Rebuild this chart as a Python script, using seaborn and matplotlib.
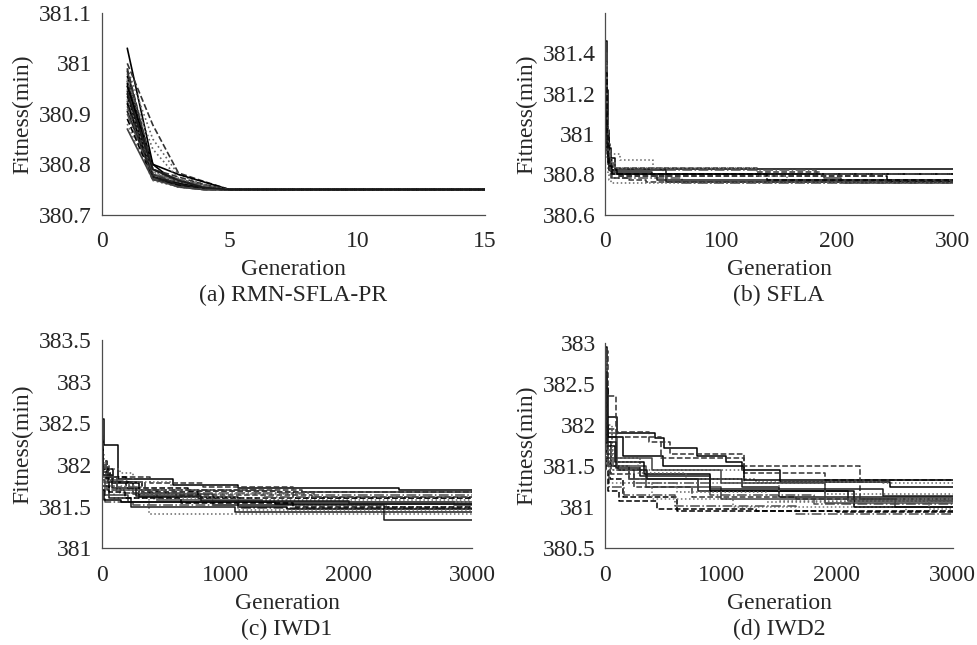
import numpy as np
import seaborn as sns
import matplotlib.pyplot as plt
import matplotlib.ticker as mticker

# (a) RMN-SFLA-PR : fitness at generations 1..5 and 15 (flat after 5)
gen_a = [1, 2, 3, 4, 5, 15]
runs_a = [
    [381.03, 380.80, 380.760, 380.752, 380.75, 380.75],
    [381.00, 380.878, 380.783, 380.766, 380.75, 380.75],
    [380.99, 380.85, 380.780, 380.760, 380.75, 380.75],
    [380.985, 380.79, 380.770, 380.755, 380.75, 380.75],
    [380.98, 380.78, 380.765, 380.755, 380.75, 380.75],
    [380.975, 380.775, 380.760, 380.753, 380.75, 380.75],
    [380.97, 380.785, 380.770, 380.760, 380.75, 380.75],
    [380.965, 380.78, 380.762, 380.752, 380.75, 380.75],
    [380.96, 380.775, 380.758, 380.751, 380.75, 380.75],
    [380.955, 380.79, 380.765, 380.755, 380.75, 380.75],
    [380.95, 380.77, 380.760, 380.752, 380.75, 380.75],
    [380.945, 380.775, 380.755, 380.750, 380.75, 380.75],
    [380.94, 380.78, 380.770, 380.758, 380.75, 380.75],
    [380.935, 380.772, 380.760, 380.752, 380.75, 380.75],
    [380.93, 380.785, 380.765, 380.755, 380.75, 380.75],
    [380.925, 380.77, 380.758, 380.751, 380.75, 380.75],
    [380.92, 380.775, 380.762, 380.753, 380.75, 380.75],
    [380.915, 380.78, 380.760, 380.750, 380.75, 380.75],
    [380.91, 380.77, 380.757, 380.751, 380.75, 380.75],
    [380.905, 380.775, 380.760, 380.752, 380.75, 380.75],
    [380.90, 380.772, 380.755, 380.750, 380.75, 380.75],
    [380.89, 380.77, 380.758, 380.751, 380.75, 380.75],
    [380.88, 380.768, 380.755, 380.750, 380.75, 380.75],
    [380.87, 380.77, 380.756, 380.750, 380.75, 380.75],
    [380.955, 380.80, 380.780, 380.765, 380.75, 380.75],
    [380.99, 380.79, 380.775, 380.760, 380.75, 380.75],
    [380.965, 380.83, 380.772, 380.758, 380.75, 380.75],
    [380.94, 380.79, 380.768, 380.754, 380.75, 380.75],
]

# (b) SFLA : step breakpoints (generation, best fitness)
runs_b = [
    ([0, 1, 2, 3, 5, 8, 300], [381.46, 381.22, 381.02, 380.93, 380.88, 380.826, 380.826]),
    ([0, 1, 2, 4, 7, 131, 183, 300], [381.30, 381.10, 380.95, 380.87, 380.83, 380.81, 380.80, 380.80]),
    ([0, 1, 2, 4, 13, 41, 50, 300], [381.20, 381.00, 380.92, 380.90, 380.87, 380.83, 380.80, 380.80]),
    ([0, 1, 2, 3, 5, 52, 300], [381.15, 380.98, 380.90, 380.85, 380.82, 380.76, 380.76]),
    ([0, 1, 2, 4, 6, 66, 300], [381.10, 380.95, 380.85, 380.80, 380.78, 380.755, 380.755]),
    ([0, 1, 3, 5, 10, 243, 300], [381.25, 381.00, 380.88, 380.82, 380.79, 380.76, 380.76]),
    ([0, 1, 2, 4, 8, 131, 157, 300], [381.35, 381.05, 380.92, 380.86, 380.83, 380.79, 380.77, 380.77]),
    ([0, 1, 2, 3, 6, 189, 204, 300], [381.00, 380.90, 380.85, 380.82, 380.80, 380.78, 380.755, 380.755]),
    ([0, 1, 2, 4, 10, 300], [381.05, 380.92, 380.86, 380.82, 380.80, 380.80]),
    ([0, 1, 2, 3, 5, 20, 35, 300], [381.18, 380.98, 380.88, 380.83, 380.78, 380.77, 380.76, 380.76]),
    ([0, 1, 2, 3, 5, 300], [380.98, 380.88, 380.80, 380.77, 380.755, 380.755]),
    ([0, 1, 2, 3, 5, 40, 45, 300], [381.12, 380.95, 380.86, 380.82, 380.81, 380.80, 380.77, 380.77]),
    ([0, 1, 2, 4, 182, 186, 300], [381.40, 381.10, 380.90, 380.82, 380.81, 380.80, 380.80]),
    ([0, 1, 2, 3, 6, 140, 300], [381.30, 381.00, 380.88, 380.84, 380.80, 380.77, 380.77]),
]

# (c) IWD1
runs_c = [
    ([0, 15, 132, 575, 1100, 2410, 3000], [382.55, 382.24, 381.83, 381.76, 381.72, 381.70, 381.70]),
    ([0, 8, 60, 388, 820, 1547, 3000], [382.30, 382.00, 381.85, 381.78, 381.74, 381.60, 381.60]),
    ([0, 5, 30, 100, 383, 3000], [382.10, 381.90, 381.75, 381.60, 381.41, 381.41]),
    ([0, 10, 50, 250, 900, 2288, 3000], [382.20, 381.95, 381.80, 381.65, 381.52, 381.34, 381.34]),
    ([0, 5, 25, 250, 1100, 3000], [381.95, 381.70, 381.55, 381.52, 381.48, 381.48]),
    ([0, 6, 40, 200, 700, 1400, 2400, 3000], [382.40, 382.05, 381.85, 381.72, 381.69, 381.68, 381.67, 381.67]),
    ([0, 20, 80, 260, 1640, 2850, 3000], [382.15, 381.90, 381.75, 381.65, 381.60, 381.55, 381.55]),
    ([0, 10, 120, 450, 1300, 3000], [382.05, 381.85, 381.70, 381.58, 381.55, 381.55]),
    ([0, 12, 90, 300, 1100, 1500, 3000], [382.30, 381.95, 381.78, 381.62, 381.50, 381.47, 381.47]),
    ([0, 4, 40, 180, 600, 1700, 3000], [381.98, 381.80, 381.70, 381.66, 381.64, 381.62, 381.62]),
    ([0, 7, 35, 150, 500, 1250, 3000], [382.10, 381.88, 381.74, 381.66, 381.60, 381.58, 381.58]),
    ([0, 5, 60, 240, 1080, 3000], [381.90, 381.75, 381.60, 381.50, 381.44, 381.44]),
    ([0, 3, 45, 220, 1250, 1720, 3000], [382.45, 382.00, 381.82, 381.70, 381.66, 381.64, 381.64]),
    ([0, 9, 70, 330, 780, 3000], [382.20, 381.92, 381.80, 381.68, 381.60, 381.60]),
    ([0, 15, 100, 420, 1500, 2300, 3000], [382.00, 381.80, 381.70, 381.58, 381.52, 381.50, 381.50]),
    ([0, 6, 30, 210, 2850, 3000], [382.05, 381.82, 381.64, 381.56, 381.52, 381.52]),
    ([0, 4, 20, 160, 1400, 3000], [381.85, 381.70, 381.58, 381.55, 381.53, 381.53]),
    ([0, 8, 50, 350, 1620, 2300, 3000], [382.35, 381.98, 381.80, 381.70, 381.68, 381.67, 381.67]),
    ([0, 5, 150, 250, 560, 1100, 3000], [382.25, 381.95, 381.90, 381.80, 381.62, 381.46, 381.46]),
    ([0, 10, 80, 280, 800, 2000, 3000], [382.15, 381.88, 381.72, 381.63, 381.57, 381.53, 381.53]),
    ([0, 3, 35, 120, 330, 1300, 3000], [382.40, 382.05, 381.86, 381.74, 381.66, 381.61, 381.61]),
    ([0, 6, 55, 190, 640, 1550, 3000], [382.00, 381.84, 381.68, 381.60, 381.54, 381.49, 381.49]),
]

# (d) IWD2
runs_d = [
    ([0, 10, 100, 430, 505, 790, 1040, 1180, 1513, 2460, 3000],
     [382.95, 382.10, 381.90, 381.84, 381.72, 381.62, 381.55, 381.45, 381.31, 381.25, 381.25]),
    ([0, 20, 90, 380, 560, 1200, 1900, 3000], [382.90, 382.35, 381.92, 381.80, 381.65, 381.42, 381.33, 381.33]),
    ([0, 10, 60, 300, 1200, 1900, 3000], [382.60, 381.95, 381.60, 381.45, 381.30, 381.16, 381.16]),
    ([0, 8, 50, 200, 800, 2100, 3000], [382.30, 381.80, 381.50, 381.35, 381.20, 381.08, 381.08]),
    ([0, 12, 70, 250, 900, 1800, 3000], [382.50, 381.70, 381.45, 381.30, 381.15, 381.04, 381.04]),
    ([0, 5, 40, 150, 620, 2000, 3000], [382.20, 381.60, 381.35, 381.12, 380.96, 380.94, 380.94]),
    ([0, 6, 30, 400, 1100, 2600, 3000], [382.10, 381.55, 381.30, 381.10, 381.00, 380.96, 380.96]),
    ([0, 15, 100, 350, 1000, 2500, 3000], [382.70, 381.85, 381.50, 381.25, 381.10, 381.00, 381.00]),
    ([0, 9, 80, 330, 900, 2150, 3000], [382.40, 381.75, 381.55, 381.40, 381.20, 381.00, 381.00]),
    ([0, 7, 45, 250, 750, 1650, 3000], [382.25, 381.65, 381.40, 381.25, 381.12, 381.10, 381.10]),
    ([0, 10, 60, 280, 700, 1300, 2400, 3000], [382.80, 382.00, 381.55, 381.42, 381.35, 381.31, 381.29, 381.29]),
    ([0, 20, 110, 360, 1180, 1500, 3000], [382.00, 381.50, 381.45, 381.35, 381.25, 381.12, 381.12]),
    ([0, 5, 35, 160, 600, 1650, 3000], [382.15, 381.50, 381.25, 381.15, 381.02, 380.92, 380.92]),
    ([0, 4, 25, 120, 450, 1300, 3000], [382.00, 381.45, 381.20, 381.08, 380.98, 380.95, 380.95]),
    ([0, 8, 55, 300, 1500, 2800, 3000], [382.35, 381.70, 381.50, 381.30, 381.08, 380.98, 380.98]),
    ([0, 15, 90, 400, 1000, 1900, 3000], [382.55, 381.90, 381.60, 381.45, 381.30, 381.05, 381.05]),
    ([0, 25, 150, 500, 1200, 3000], [382.45, 381.85, 381.62, 381.50, 381.33, 381.33]),
    ([0, 10, 100, 480, 1200, 2200, 3000], [382.60, 381.95, 381.85, 381.60, 381.50, 381.10, 381.10]),
    ([0, 6, 40, 200, 620, 1400, 3000], [382.30, 381.60, 381.45, 381.30, 381.18, 381.06, 381.06]),
    ([0, 12, 90, 300, 900, 2400, 3000], [382.65, 381.80, 381.48, 381.38, 381.22, 381.14, 381.14]),
]

panels = [
    ("(a) RMN-SFLA-PR", (380.7, 381.1), [380.7, 380.8, 380.9, 381, 381.1], (0, 15), [0, 5, 10, 15]),
    ("(b) SFLA", (380.6, 381.6), [380.6, 380.8, 381, 381.2, 381.4], (0, 300), [0, 100, 200, 300]),
    ("(c) IWD1", (381, 383.5), [381, 381.5, 382, 382.5, 383, 383.5], (0, 3000), [0, 1000, 2000, 3000]),
    ("(d) IWD2", (380.5, 383), [380.5, 381, 381.5, 382, 382.5, 383], (0, 3000), [0, 1000, 2000, 3000]),
]

sns.set_style("white")
plt.rcParams['font.family'] = ['Liberation Serif', 'DejaVu Serif']
plt.rcParams['font.size'] = 17

line_styles = ['-', '--', ':', '-', '-.', '--', ':', '-']
line_colors = ['black', '0.2', '0.4', '0.1', '0.3', 'black', '0.45', '0.25']

fig = plt.figure(figsize=(9.78, 6.45), dpi=100)
boxes = [
    [0.104, 0.667, 0.392, 0.313],
    [0.619, 0.667, 0.355, 0.313],
    [0.104, 0.150, 0.379, 0.323],
    [0.619, 0.150, 0.355, 0.318],
]

for k, (title, ylim, yt, xlim, xt) in enumerate(panels):
    ax = fig.add_axes(boxes[k])
    if k == 0:
        for i, r in enumerate(runs_a):
            sns.lineplot(x=gen_a, y=r, ax=ax, color=line_colors[i % 8],
                         linestyle=line_styles[i % 8], linewidth=1.2,
                         errorbar=None)
    else:
        runs = [runs_b, runs_c, runs_d][k - 1]
        for i, (gx, gy) in enumerate(runs):
            sns.lineplot(x=gx, y=gy, ax=ax, color=line_colors[i % 8],
                         linestyle=line_styles[i % 8], linewidth=1.1,
                         drawstyle='steps-post', errorbar=None)
    ax.set_xlim(xlim)
    ax.set_ylim(ylim)
    ax.set_xticks(xt)
    ax.set_yticks(yt)
    ax.yaxis.set_major_formatter(mticker.FuncFormatter(lambda v, _: f"{v:g}"))
    ax.tick_params(direction='in', length=4, width=0.8, labelsize=17)
    ax.tick_params(axis='x', pad=12)
    ax.tick_params(axis='y', pad=7)
    for s in ['top', 'right']:
        ax.spines[s].set_visible(False)
    for s in ['left', 'bottom']:
        ax.spines[s].set_color('0.3')
        ax.spines[s].set_linewidth(0.9)
    ax.set_ylabel("Fitness(min)", fontsize=17, labelpad=4)
    ax.set_xlabel("Generation\n" + title, fontsize=17, linespacing=1.3, labelpad=5)

fig.savefig("out.png", dpi=100)
